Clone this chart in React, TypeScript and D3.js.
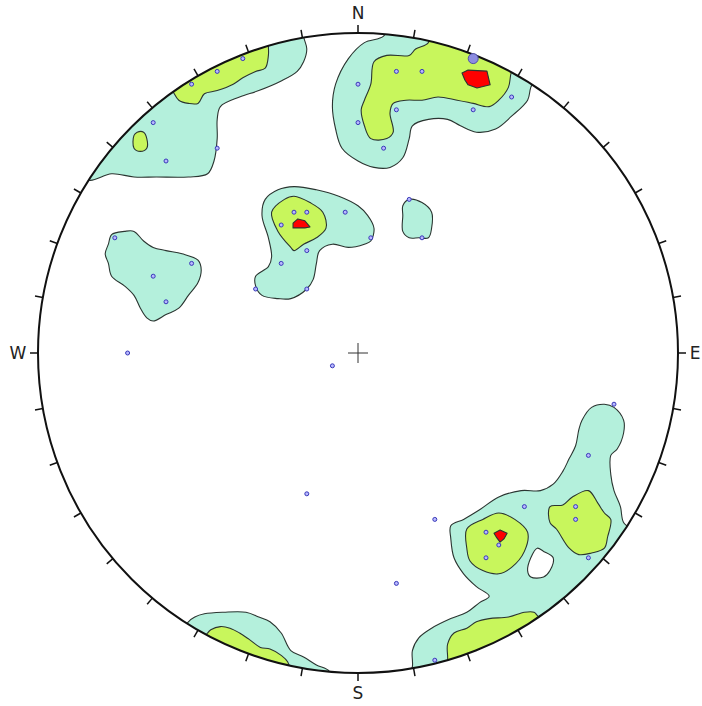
import * as d3 from "d3";

const width = 702;
const height = 706;
const cx = 358;
const cy = 353;
const radius = 320;

type Pt = [number, number];

// contour outlines in percent of the net radius (x = east, y = north)
// outlines that run off the primitive circle are closed outside it and clipped
const lowContours: Pt[][] = [
  // north
  [[10, 104], [8, 99], [2, 97], [-3, 92], [-7, 84], [-8, 77], [-7, 70], [-5, 64], [0, 60], [5, 58], [10, 58], [14, 61], [16, 67], [17, 71], [22, 73], [28, 73], [32, 71], [37, 69], [43, 70], [48, 74], [53, 79], [54, 83], [58, 92], [40, 110], [13, 110]],
  // north-west
  [[-87, 57], [-84, 54], [-77, 56], [-70, 55], [-63, 55], [-53, 55], [-47, 56], [-45, 60], [-44, 67], [-44, 73], [-43, 77], [-37, 80], [-31, 82], [-24, 85], [-19, 88], [-17, 91], [-16, 95], [-17, 99], [-17, 104], [-65, 98]],
  // upper centre
  [[-29, 48], [-25, 51], [-20, 52], [-13, 51], [-6, 49], [0, 46], [3, 43], [5, 39], [4, 35], [2, 34], [-3, 33], [-8, 34], [-12, 32], [-13, 28], [-14, 23], [-16, 20], [-21, 17], [-25, 17], [-30, 18], [-32, 21], [-32, 24], [-28, 27], [-27, 30], [-28, 36], [-30, 43]],
  // small island
  [[14, 46], [16, 48], [20, 47], [23, 44], [23, 39], [22, 36], [19, 36], [16, 36], [14, 38], [14, 43]],
  // west
  [[-78, 34], [-77, 37], [-73, 38], [-70, 38], [-67, 35], [-64, 33], [-60, 32], [-55, 31], [-50, 29], [-49, 26], [-50, 22], [-53, 18], [-56, 14], [-60, 12], [-64, 10], [-66, 11], [-68, 14], [-70, 18], [-73, 21], [-77, 24], [-78, 28], [-79, 31]],
  // south-east
  [[15, -105], [17, -98], [17, -93], [19, -89], [23, -86], [29, -83], [34, -81], [38, -78], [41, -76], [37, -73], [33, -69], [30, -64], [29, -58], [29, -54], [33, -52], [38, -49], [44, -45], [51, -43], [57, -43], [61, -41], [64, -37], [66, -33], [68, -29], [69, -24], [70, -21], [73, -17], [77, -16], [80, -17], [83, -21], [83, -25], [81, -30], [79, -32], [79, -38], [80, -43], [82, -48], [83, -53], [88, -58], [44, -115]],
  // south-west
  [[-56, -90], [-53, -84], [-51, -82.5], [-48, -81.5], [-42, -81], [-35, -81], [-31, -82.5], [-27.5, -84], [-24, -87.5], [-21, -93], [-17, -95], [-13, -97.5], [-9, -99.5], [-9, -105], [-35, -108]],
];

const midContours: Pt[][] = [
  [[21, 103], [22, 97], [18, 95], [16, 93], [9, 93], [5, 91], [4, 84], [2, 79], [1, 76], [2, 71], [4, 67], [9, 67], [11, 69], [10, 75], [11, 78], [15, 79], [20, 79], [25, 80], [31, 79], [36, 78], [41, 77], [44, 79], [47, 83], [48, 88], [51, 93], [35, 104]],
  [[-60, 85], [-58, 82], [-56, 79], [-53, 78], [-50, 78], [-48, 81], [-44, 82], [-39, 84], [-36, 86], [-32, 88], [-29, 89], [-28, 93], [-28, 96], [-28, 101]],
  [[-70, 68], [-69, 69], [-67, 69], [-66, 67], [-66, 64], [-68, 63], [-70, 64]],
  [[-27, 44], [-23, 48], [-20, 49], [-15, 47], [-11, 44], [-10, 39], [-13, 36], [-17, 34], [-20, 32], [-21, 33], [-25, 38]],
  [[34, -55], [39, -52], [44, -50], [49, -52], [53, -56], [52, -62], [48, -67], [44, -69], [39, -68], [35, -65], [34, -61]],
  [[60, -48], [64, -47.5], [67, -45], [72, -43], [75, -47], [77, -50], [79, -52], [78, -57.5], [77, -61], [73, -62.5], [69, -63], [66, -61], [62, -55], [60, -53]],
  [[27, -102], [28, -96], [28, -91], [30, -87.5], [34, -86], [37, -84], [41, -83], [47, -82.5], [52, -81], [55, -81], [56, -82], [60, -87]],
  [[-49, -91], [-47, -87.5], [-46, -86.5], [-43, -85.5], [-40, -86], [-37, -87.5], [-34, -89.5], [-30.5, -92], [-27.5, -92.5], [-24, -94.5], [-22, -96.5], [-21, -102]],
];

const highContours: Pt[][] = [
  [[32.5, 87.5], [34.4, 88.4], [40.3, 88.1], [41.3, 83.8], [37.2, 82.8], [34.4, 83.8], [33.4, 85.3]],
  [[-20.3, 40.6], [-18.8, 41.9], [-16.6, 41.3], [-15, 39.4], [-16.6, 39.1], [-19.1, 39.1], [-20.3, 39.1]],
  [[42.5, -56.3], [44.4, -55.3], [46.6, -56.3], [45.6, -58.1], [44.4, -59.1], [43.4, -57.8]],
];

const holes: Pt[][] = [
  [[56, -61], [58, -62], [61, -64], [60, -68], [58, -70], [54, -70], [53, -68], [54, -64]],
];

const poles: Pt[] = [
  [12, 88], [20, 88], [0, 84], [0, 72], [12, 76], [36, 76], [48, 80], [8, 64],
  [-52, 84], [-44, 88], [-36, 92], [-64, 72], [-60, 60], [-44, 64],
  [-20, 44], [-16, 44], [-24, 40], [-4, 44], [-16, 32], [-24, 28], [-32, 20], [-16, 20],
  [4, 36], [16, 48], [20, 36], [-8, -4],
  [-76, 36], [-52, 28], [-64, 24], [-60, 16], [-72, 0],
  [80, -16], [72, -32], [52, -48], [68, -48], [68, -52], [24, -52], [40, -56], [44, -60],
  [40, -64], [72, -64], [24, -96], [-16, -44], [12, -72],
];

const meanPole: Pt = [36, 92];

const tickAzimuths = d3.range(0, 360, 10);
const compassLabels = ["N", "E", "S", "W"];
const compassAzimuths = [0, 90, 180, 270];
const labelGaps = [20, 17, 20, 20];

const lowColor = "#b4f0dc";
const midColor = "#c8f65c";
const highColor = "#ff0000";

export default function App() {
  const x = d3.scaleLinear([-100, 100], [cx - radius, cx + radius]);
  const y = d3.scaleLinear([-100, 100], [cy + radius, cy - radius]);
  const smooth = d3
    .line<Pt>()
    .x((d) => x(d[0]))
    .y((d) => y(d[1]))
    .curve(d3.curveCatmullRomClosed.alpha(0.5));
  const sharp = d3
    .line<Pt>()
    .x((d) => x(d[0]))
    .y((d) => y(d[1]))
    .curve(d3.curveLinearClosed);

  const polar = (az: number, r: number): Pt => {
    const a = (az * Math.PI) / 180;
    return [cx + r * Math.sin(a), cy - r * Math.cos(a)];
  };

  const layer = (rings: Pt[][], fill: string, key: string, gen = smooth) =>
    rings.map((ring, i) => (
      <path key={key + i} d={gen(ring) ?? ""} fill={fill} stroke="#2b3531" strokeWidth={1.1} strokeLinejoin="round" />
    ));

  return (
    <svg width={width} height={height} style={{ position: "absolute", left: 0, top: 0, display: "block" }}>
      <defs>
        <clipPath id="net">
          <circle cx={cx} cy={cy} r={radius} />
        </clipPath>
      </defs>
      <rect width={width} height={height} fill="#fff" />
      <g clipPath="url(#net)">
        {layer(lowContours, lowColor, "low")}
        {layer(holes, "#fff", "hole")}
        {layer(midContours, midColor, "mid")}
        {layer(highContours, highColor, "high", sharp)}
      </g>
      <circle cx={cx} cy={cy} r={radius} fill="none" stroke="#111" strokeWidth={2} />
      <g stroke="#111" strokeWidth={1.5}>
        {tickAzimuths.map((az) => {
          const [x1, y1] = polar(az, radius);
          const [x2, y2] = polar(az, radius + 8);
          return <line key={az} x1={x1} y1={y1} x2={x2} y2={y2} />;
        })}
      </g>
      <g fontFamily="DejaVu Sans, sans-serif" fontSize={17} fill="#222" textAnchor="middle" dominantBaseline="central">
        {compassLabels.map((lab, i) => {
          const [tx, ty] = polar(compassAzimuths[i], radius + labelGaps[i]);
          return (
            <text key={lab} x={tx} y={ty}>
              {lab}
            </text>
          );
        })}
      </g>
      <g stroke="#333" strokeWidth={1}>
        <line x1={x(0) - 10} x2={x(0) + 10} y1={y(0)} y2={y(0)} />
        <line x1={x(0)} x2={x(0)} y1={y(0) - 10} y2={y(0) + 10} />
      </g>
      <g>
        {poles.map((p, i) => (
          <circle key={i} cx={x(p[0])} cy={y(p[1])} r={2} fill="#b8b8ff" stroke="#3838b8" strokeWidth={1} />
        ))}
        <circle cx={x(meanPole[0])} cy={y(meanPole[1])} r={5} fill="#8c8ce0" stroke="#5050a8" strokeWidth={1} />
      </g>
    </svg>
  );
}
